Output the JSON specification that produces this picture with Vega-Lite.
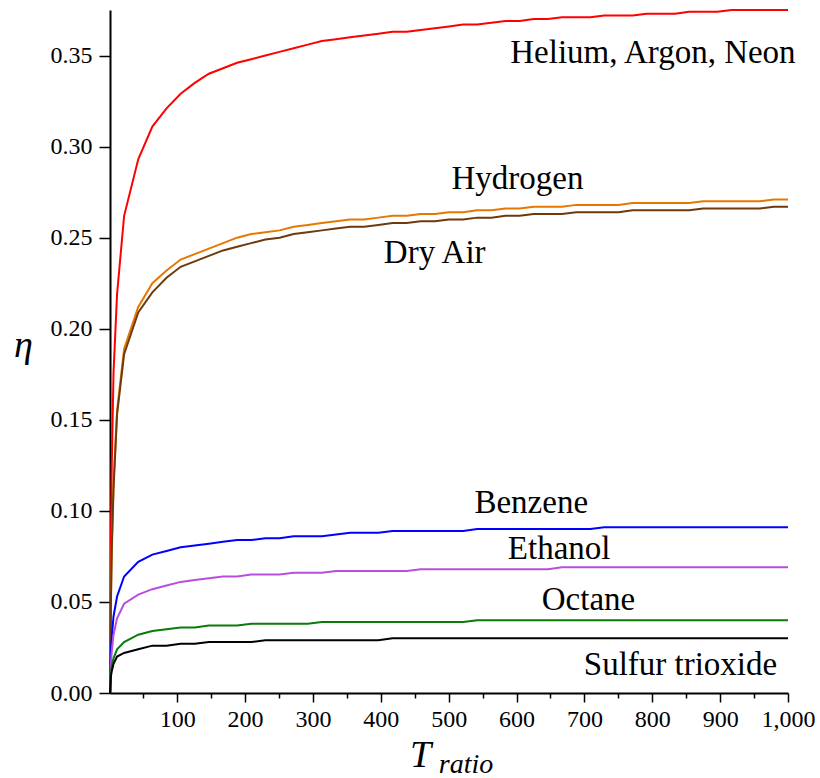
{
"$schema":"https://vega.github.io/schema/vega-lite/v6.json",
"width":678,"height":683,
"autosize":{"type":"none"},
"padding":{"left":110,"top":10,"right":32,"bottom":85},
"background":"white",
"config":{"view":{"stroke":null},"font":"Liberation Serif"},
"resolve":{"axis":{"x":"independent"}},
"datasets":{
"curves":[
{"g":"He","x":1,"y":0},{"g":"He","x":2.3,"y":0.08},{"g":"He","x":3.6,"y":0.125},{"g":"He","x":6.2,"y":0.176},{"g":"He","x":11.4,"y":0.219},{"g":"He","x":21.8,"y":0.262},{"g":"He","x":42.6,"y":0.293},{"g":"He","x":63.4,"y":0.311},{"g":"He","x":84.3,"y":0.321},{"g":"He","x":105.1,"y":0.329},{"g":"He","x":125.9,"y":0.335},{"g":"He","x":146.7,"y":0.34},{"g":"He","x":167.5,"y":0.343},{"g":"He","x":188.3,"y":0.346},{"g":"He","x":209.1,"y":0.348},{"g":"He","x":229.9,"y":0.35},{"g":"He","x":250.8,"y":0.352},{"g":"He","x":271.6,"y":0.354},{"g":"He","x":292.4,"y":0.356},{"g":"He","x":313.2,"y":0.358},{"g":"He","x":334,"y":0.359},{"g":"He","x":354.8,"y":0.36},{"g":"He","x":375.6,"y":0.361},{"g":"He","x":396.4,"y":0.362},{"g":"He","x":417.3,"y":0.363},{"g":"He","x":438.1,"y":0.363},{"g":"He","x":458.9,"y":0.364},{"g":"He","x":479.7,"y":0.365},{"g":"He","x":500.5,"y":0.366},{"g":"He","x":521.3,"y":0.367},{"g":"He","x":542.1,"y":0.367},{"g":"He","x":562.9,"y":0.368},{"g":"He","x":583.8,"y":0.369},{"g":"He","x":604.6,"y":0.369},{"g":"He","x":625.4,"y":0.37},{"g":"He","x":646.2,"y":0.37},{"g":"He","x":667,"y":0.371},{"g":"He","x":687.8,"y":0.371},{"g":"He","x":708.6,"y":0.371},{"g":"He","x":729.4,"y":0.372},{"g":"He","x":750.3,"y":0.372},{"g":"He","x":771.1,"y":0.372},{"g":"He","x":791.9,"y":0.373},{"g":"He","x":812.7,"y":0.373},{"g":"He","x":833.5,"y":0.373},{"g":"He","x":854.3,"y":0.374},{"g":"He","x":875.1,"y":0.374},{"g":"He","x":895.9,"y":0.374},{"g":"He","x":916.8,"y":0.375},{"g":"He","x":937.6,"y":0.375},{"g":"He","x":958.4,"y":0.375},{"g":"He","x":979.2,"y":0.375},{"g":"He","x":1000,"y":0.375},
{"g":"H2","x":1,"y":0},{"g":"H2","x":2.3,"y":0.05},{"g":"H2","x":3.6,"y":0.08},{"g":"H2","x":6.2,"y":0.115},{"g":"H2","x":11.4,"y":0.155},{"g":"H2","x":21.8,"y":0.189},{"g":"H2","x":42.6,"y":0.212},{"g":"H2","x":63.4,"y":0.225},{"g":"H2","x":84.3,"y":0.232},{"g":"H2","x":105.1,"y":0.238},{"g":"H2","x":125.9,"y":0.241},{"g":"H2","x":146.7,"y":0.244},{"g":"H2","x":167.5,"y":0.247},{"g":"H2","x":188.3,"y":0.25},{"g":"H2","x":209.1,"y":0.252},{"g":"H2","x":229.9,"y":0.253},{"g":"H2","x":250.8,"y":0.254},{"g":"H2","x":271.6,"y":0.256},{"g":"H2","x":292.4,"y":0.257},{"g":"H2","x":313.2,"y":0.258},{"g":"H2","x":334,"y":0.259},{"g":"H2","x":354.8,"y":0.26},{"g":"H2","x":375.6,"y":0.26},{"g":"H2","x":396.4,"y":0.261},{"g":"H2","x":417.3,"y":0.262},{"g":"H2","x":438.1,"y":0.262},{"g":"H2","x":458.9,"y":0.263},{"g":"H2","x":479.7,"y":0.263},{"g":"H2","x":500.5,"y":0.264},{"g":"H2","x":521.3,"y":0.264},{"g":"H2","x":542.1,"y":0.265},{"g":"H2","x":562.9,"y":0.265},{"g":"H2","x":583.8,"y":0.266},{"g":"H2","x":604.6,"y":0.266},{"g":"H2","x":625.4,"y":0.267},{"g":"H2","x":646.2,"y":0.267},{"g":"H2","x":667,"y":0.267},{"g":"H2","x":687.8,"y":0.268},{"g":"H2","x":708.6,"y":0.268},{"g":"H2","x":729.4,"y":0.268},{"g":"H2","x":750.3,"y":0.268},{"g":"H2","x":771.1,"y":0.269},{"g":"H2","x":791.9,"y":0.269},{"g":"H2","x":812.7,"y":0.269},{"g":"H2","x":833.5,"y":0.269},{"g":"H2","x":854.3,"y":0.269},{"g":"H2","x":875.1,"y":0.27},{"g":"H2","x":895.9,"y":0.27},{"g":"H2","x":916.8,"y":0.27},{"g":"H2","x":937.6,"y":0.27},{"g":"H2","x":958.4,"y":0.27},{"g":"H2","x":979.2,"y":0.271},{"g":"H2","x":1000,"y":0.271},
{"g":"Air","x":1,"y":0},{"g":"Air","x":2.3,"y":0.048},{"g":"Air","x":3.6,"y":0.078},{"g":"Air","x":6.2,"y":0.112},{"g":"Air","x":11.4,"y":0.153},{"g":"Air","x":21.8,"y":0.186},{"g":"Air","x":42.6,"y":0.209},{"g":"Air","x":63.4,"y":0.22},{"g":"Air","x":84.3,"y":0.228},{"g":"Air","x":105.1,"y":0.234},{"g":"Air","x":125.9,"y":0.237},{"g":"Air","x":146.7,"y":0.24},{"g":"Air","x":167.5,"y":0.243},{"g":"Air","x":188.3,"y":0.245},{"g":"Air","x":209.1,"y":0.247},{"g":"Air","x":229.9,"y":0.249},{"g":"Air","x":250.8,"y":0.25},{"g":"Air","x":271.6,"y":0.252},{"g":"Air","x":292.4,"y":0.253},{"g":"Air","x":313.2,"y":0.254},{"g":"Air","x":334,"y":0.255},{"g":"Air","x":354.8,"y":0.256},{"g":"Air","x":375.6,"y":0.256},{"g":"Air","x":396.4,"y":0.257},{"g":"Air","x":417.3,"y":0.258},{"g":"Air","x":438.1,"y":0.258},{"g":"Air","x":458.9,"y":0.259},{"g":"Air","x":479.7,"y":0.259},{"g":"Air","x":500.5,"y":0.26},{"g":"Air","x":521.3,"y":0.26},{"g":"Air","x":542.1,"y":0.261},{"g":"Air","x":562.9,"y":0.261},{"g":"Air","x":583.8,"y":0.262},{"g":"Air","x":604.6,"y":0.262},{"g":"Air","x":625.4,"y":0.263},{"g":"Air","x":646.2,"y":0.263},{"g":"Air","x":667,"y":0.263},{"g":"Air","x":687.8,"y":0.264},{"g":"Air","x":708.6,"y":0.264},{"g":"Air","x":729.4,"y":0.264},{"g":"Air","x":750.3,"y":0.264},{"g":"Air","x":771.1,"y":0.265},{"g":"Air","x":791.9,"y":0.265},{"g":"Air","x":812.7,"y":0.265},{"g":"Air","x":833.5,"y":0.265},{"g":"Air","x":854.3,"y":0.265},{"g":"Air","x":875.1,"y":0.266},{"g":"Air","x":895.9,"y":0.266},{"g":"Air","x":916.8,"y":0.266},{"g":"Air","x":937.6,"y":0.266},{"g":"Air","x":958.4,"y":0.266},{"g":"Air","x":979.2,"y":0.267},{"g":"Air","x":1000,"y":0.267},
{"g":"Bz","x":1,"y":0},{"g":"Bz","x":2.3,"y":0.022},{"g":"Bz","x":3.6,"y":0.031},{"g":"Bz","x":6.2,"y":0.042},{"g":"Bz","x":11.4,"y":0.053},{"g":"Bz","x":21.8,"y":0.064},{"g":"Bz","x":42.6,"y":0.072},{"g":"Bz","x":63.4,"y":0.076},{"g":"Bz","x":84.3,"y":0.078},{"g":"Bz","x":105.1,"y":0.08},{"g":"Bz","x":125.9,"y":0.081},{"g":"Bz","x":146.7,"y":0.082},{"g":"Bz","x":167.5,"y":0.083},{"g":"Bz","x":188.3,"y":0.084},{"g":"Bz","x":209.1,"y":0.084},{"g":"Bz","x":229.9,"y":0.085},{"g":"Bz","x":250.8,"y":0.085},{"g":"Bz","x":271.6,"y":0.086},{"g":"Bz","x":292.4,"y":0.086},{"g":"Bz","x":313.2,"y":0.086},{"g":"Bz","x":334,"y":0.087},{"g":"Bz","x":354.8,"y":0.088},{"g":"Bz","x":375.6,"y":0.088},{"g":"Bz","x":396.4,"y":0.088},{"g":"Bz","x":417.3,"y":0.089},{"g":"Bz","x":438.1,"y":0.089},{"g":"Bz","x":458.9,"y":0.089},{"g":"Bz","x":479.7,"y":0.089},{"g":"Bz","x":500.5,"y":0.089},{"g":"Bz","x":521.3,"y":0.089},{"g":"Bz","x":542.1,"y":0.09},{"g":"Bz","x":562.9,"y":0.09},{"g":"Bz","x":583.8,"y":0.09},{"g":"Bz","x":604.6,"y":0.09},{"g":"Bz","x":625.4,"y":0.09},{"g":"Bz","x":646.2,"y":0.09},{"g":"Bz","x":667,"y":0.09},{"g":"Bz","x":687.8,"y":0.09},{"g":"Bz","x":708.6,"y":0.09},{"g":"Bz","x":729.4,"y":0.091},{"g":"Bz","x":750.3,"y":0.091},{"g":"Bz","x":771.1,"y":0.091},{"g":"Bz","x":791.9,"y":0.091},{"g":"Bz","x":812.7,"y":0.091},{"g":"Bz","x":833.5,"y":0.091},{"g":"Bz","x":854.3,"y":0.091},{"g":"Bz","x":875.1,"y":0.091},{"g":"Bz","x":895.9,"y":0.091},{"g":"Bz","x":916.8,"y":0.091},{"g":"Bz","x":937.6,"y":0.091},{"g":"Bz","x":958.4,"y":0.091},{"g":"Bz","x":979.2,"y":0.091},{"g":"Bz","x":1000,"y":0.091},
{"g":"Et","x":1,"y":0},{"g":"Et","x":2.3,"y":0.016},{"g":"Et","x":3.6,"y":0.023},{"g":"Et","x":6.2,"y":0.032},{"g":"Et","x":11.4,"y":0.041},{"g":"Et","x":21.8,"y":0.049},{"g":"Et","x":42.6,"y":0.054},{"g":"Et","x":63.4,"y":0.057},{"g":"Et","x":84.3,"y":0.059},{"g":"Et","x":105.1,"y":0.061},{"g":"Et","x":125.9,"y":0.062},{"g":"Et","x":146.7,"y":0.063},{"g":"Et","x":167.5,"y":0.064},{"g":"Et","x":188.3,"y":0.064},{"g":"Et","x":209.1,"y":0.065},{"g":"Et","x":229.9,"y":0.065},{"g":"Et","x":250.8,"y":0.065},{"g":"Et","x":271.6,"y":0.066},{"g":"Et","x":292.4,"y":0.066},{"g":"Et","x":313.2,"y":0.066},{"g":"Et","x":334,"y":0.067},{"g":"Et","x":354.8,"y":0.067},{"g":"Et","x":375.6,"y":0.067},{"g":"Et","x":396.4,"y":0.067},{"g":"Et","x":417.3,"y":0.067},{"g":"Et","x":438.1,"y":0.067},{"g":"Et","x":458.9,"y":0.068},{"g":"Et","x":479.7,"y":0.068},{"g":"Et","x":500.5,"y":0.068},{"g":"Et","x":521.3,"y":0.068},{"g":"Et","x":542.1,"y":0.068},{"g":"Et","x":562.9,"y":0.068},{"g":"Et","x":583.8,"y":0.068},{"g":"Et","x":604.6,"y":0.068},{"g":"Et","x":625.4,"y":0.068},{"g":"Et","x":646.2,"y":0.068},{"g":"Et","x":667,"y":0.069},{"g":"Et","x":687.8,"y":0.069},{"g":"Et","x":708.6,"y":0.069},{"g":"Et","x":729.4,"y":0.069},{"g":"Et","x":750.3,"y":0.069},{"g":"Et","x":771.1,"y":0.069},{"g":"Et","x":791.9,"y":0.069},{"g":"Et","x":812.7,"y":0.069},{"g":"Et","x":833.5,"y":0.069},{"g":"Et","x":854.3,"y":0.069},{"g":"Et","x":875.1,"y":0.069},{"g":"Et","x":895.9,"y":0.069},{"g":"Et","x":916.8,"y":0.069},{"g":"Et","x":937.6,"y":0.069},{"g":"Et","x":958.4,"y":0.069},{"g":"Et","x":979.2,"y":0.069},{"g":"Et","x":1000,"y":0.069},
{"g":"Oc","x":1,"y":0},{"g":"Oc","x":2.3,"y":0.011},{"g":"Oc","x":3.6,"y":0.015},{"g":"Oc","x":6.2,"y":0.019},{"g":"Oc","x":11.4,"y":0.024},{"g":"Oc","x":21.8,"y":0.028},{"g":"Oc","x":42.6,"y":0.032},{"g":"Oc","x":63.4,"y":0.034},{"g":"Oc","x":84.3,"y":0.035},{"g":"Oc","x":105.1,"y":0.036},{"g":"Oc","x":125.9,"y":0.036},{"g":"Oc","x":146.7,"y":0.037},{"g":"Oc","x":167.5,"y":0.037},{"g":"Oc","x":188.3,"y":0.037},{"g":"Oc","x":209.1,"y":0.038},{"g":"Oc","x":229.9,"y":0.038},{"g":"Oc","x":250.8,"y":0.038},{"g":"Oc","x":271.6,"y":0.038},{"g":"Oc","x":292.4,"y":0.038},{"g":"Oc","x":313.2,"y":0.039},{"g":"Oc","x":334,"y":0.039},{"g":"Oc","x":354.8,"y":0.039},{"g":"Oc","x":375.6,"y":0.039},{"g":"Oc","x":396.4,"y":0.039},{"g":"Oc","x":417.3,"y":0.039},{"g":"Oc","x":438.1,"y":0.039},{"g":"Oc","x":458.9,"y":0.039},{"g":"Oc","x":479.7,"y":0.039},{"g":"Oc","x":500.5,"y":0.039},{"g":"Oc","x":521.3,"y":0.039},{"g":"Oc","x":542.1,"y":0.04},{"g":"Oc","x":562.9,"y":0.04},{"g":"Oc","x":583.8,"y":0.04},{"g":"Oc","x":604.6,"y":0.04},{"g":"Oc","x":625.4,"y":0.04},{"g":"Oc","x":646.2,"y":0.04},{"g":"Oc","x":667,"y":0.04},{"g":"Oc","x":687.8,"y":0.04},{"g":"Oc","x":708.6,"y":0.04},{"g":"Oc","x":729.4,"y":0.04},{"g":"Oc","x":750.3,"y":0.04},{"g":"Oc","x":771.1,"y":0.04},{"g":"Oc","x":791.9,"y":0.04},{"g":"Oc","x":812.7,"y":0.04},{"g":"Oc","x":833.5,"y":0.04},{"g":"Oc","x":854.3,"y":0.04},{"g":"Oc","x":875.1,"y":0.04},{"g":"Oc","x":895.9,"y":0.04},{"g":"Oc","x":916.8,"y":0.04},{"g":"Oc","x":937.6,"y":0.04},{"g":"Oc","x":958.4,"y":0.04},{"g":"Oc","x":979.2,"y":0.04},{"g":"Oc","x":1000,"y":0.04},
{"g":"SO","x":1,"y":0},{"g":"SO","x":2.3,"y":0.009},{"g":"SO","x":3.6,"y":0.012},{"g":"SO","x":6.2,"y":0.016},{"g":"SO","x":11.4,"y":0.02},{"g":"SO","x":21.8,"y":0.022},{"g":"SO","x":42.6,"y":0.024},{"g":"SO","x":63.4,"y":0.026},{"g":"SO","x":84.3,"y":0.026},{"g":"SO","x":105.1,"y":0.027},{"g":"SO","x":125.9,"y":0.027},{"g":"SO","x":146.7,"y":0.028},{"g":"SO","x":167.5,"y":0.028},{"g":"SO","x":188.3,"y":0.028},{"g":"SO","x":209.1,"y":0.028},{"g":"SO","x":229.9,"y":0.029},{"g":"SO","x":250.8,"y":0.029},{"g":"SO","x":271.6,"y":0.029},{"g":"SO","x":292.4,"y":0.029},{"g":"SO","x":313.2,"y":0.029},{"g":"SO","x":334,"y":0.029},{"g":"SO","x":354.8,"y":0.029},{"g":"SO","x":375.6,"y":0.029},{"g":"SO","x":396.4,"y":0.029},{"g":"SO","x":417.3,"y":0.03},{"g":"SO","x":438.1,"y":0.03},{"g":"SO","x":458.9,"y":0.03},{"g":"SO","x":479.7,"y":0.03},{"g":"SO","x":500.5,"y":0.03},{"g":"SO","x":521.3,"y":0.03},{"g":"SO","x":542.1,"y":0.03},{"g":"SO","x":562.9,"y":0.03},{"g":"SO","x":583.8,"y":0.03},{"g":"SO","x":604.6,"y":0.03},{"g":"SO","x":625.4,"y":0.03},{"g":"SO","x":646.2,"y":0.03},{"g":"SO","x":667,"y":0.03},{"g":"SO","x":687.8,"y":0.03},{"g":"SO","x":708.6,"y":0.03},{"g":"SO","x":729.4,"y":0.03},{"g":"SO","x":750.3,"y":0.03},{"g":"SO","x":771.1,"y":0.03},{"g":"SO","x":791.9,"y":0.03},{"g":"SO","x":812.7,"y":0.03},{"g":"SO","x":833.5,"y":0.03},{"g":"SO","x":854.3,"y":0.03},{"g":"SO","x":875.1,"y":0.03},{"g":"SO","x":895.9,"y":0.03},{"g":"SO","x":916.8,"y":0.03},{"g":"SO","x":937.6,"y":0.03},{"g":"SO","x":958.4,"y":0.03},{"g":"SO","x":979.2,"y":0.03},{"g":"SO","x":1000,"y":0.03}
],
"labels":[
{"t":"Helium, Argon, Neon","x":801,"y":0.346},
{"t":"Hydrogen","x":601.4,"y":0.2767},
{"t":"Dry Air","x":479.4,"y":0.2363},
{"t":"Benzene","x":621.7,"y":0.0988},
{"t":"Ethanol","x":662.8,"y":0.0736},
{"t":"Octane","x":706,"y":0.0457},
{"t":"Sulfur trioxide","x":841.6,"y":0.01}
],
"sub":[{"t":"ratio","x":525.5,"y":-0.0438}]
},
"layer":[
{"data":{"name":"curves"},
 "mark":{"type":"line","strokeWidth":2},
 "encoding":{
  "x":{"field":"x","type":"quantitative","scale":{"domain":[1,1000],"nice":false,"zero":false},
   "axis":{"orient":"bottom","values":[100,200,300,400,500,600,700,800,900,1000],
    "format":",d","tickSize":9,
    "labelFontSize":24,"labelFont":"Liberation Serif","labelColor":"black","labelPadding":5,
    "labelOverlap":false,"labelFlush":false,"labelBound":false,
    "tickColor":"black","tickWidth":1.5,"domainColor":"black","domainWidth":2,"grid":false,
    "title":"T","titleFont":"Liberation Serif","titleFontStyle":"italic","titleFontWeight":"normal","titleFontSize":38,"titleColor":"black",
    "titleX":310,"titleY":73,"titleBaseline":"alphabetic","titleAlign":"center"}},
  "y":{"field":"y","type":"quantitative","scale":{"domain":[0,0.375],"nice":false,"zero":false},
   "axis":{"values":[0,0.05,0.1,0.15,0.2,0.25,0.3,0.35],"format":".2f",
    "tickSize":11,"labelFontSize":24,"labelFont":"Liberation Serif","labelColor":"black","labelPadding":7,
    "labelOverlap":false,"labelFlush":false,"labelBound":false,
    "tickColor":"black","tickWidth":1.5,"domainColor":"black","domainWidth":2,"grid":false,
    "title":"η","titleAngle":0,"titleFont":"Liberation Serif","titleFontStyle":"italic","titleFontWeight":"normal","titleFontSize":38,"titleColor":"black",
    "titleX":-87,"titleY":346,"titleBaseline":"alphabetic","titleAlign":"center"}},
  "color":{"field":"g","type":"nominal","legend":null,
   "scale":{"domain":["He","H2","Air","Bz","Et","Oc","SO"],"range":["#ff0000","#e67800","#6e3a0c","#0000ff","#b84fdc","#0a7a0a","#000000"]}}
 }},
{"data":{"name":"labels"},
 "mark":{"type":"text","font":"Liberation Serif","fontSize":33,"align":"center","baseline":"alphabetic","color":"black"},
 "encoding":{
  "x":{"field":"x","type":"quantitative","scale":{"domain":[1,1000],"nice":false,"zero":false},
   "axis":{"orient":"bottom","values":[50,150,250,350,450,550,650,750,850,950],"tickSize":5,"labels":false,"domain":false,"grid":false,
    "tickColor":"black","tickWidth":1.5,"title":null}},
  "y":{"field":"y","type":"quantitative","scale":{"domain":[0,0.375],"nice":false,"zero":false}},
  "text":{"field":"t","type":"nominal"}}},
{"data":{"name":"sub"},
 "mark":{"type":"text","font":"Liberation Serif","fontSize":28,"fontStyle":"italic","align":"center","baseline":"alphabetic","color":"black"},
 "encoding":{
  "x":{"field":"x","type":"quantitative","scale":{"domain":[1,1000],"nice":false,"zero":false},"axis":null},
  "y":{"field":"y","type":"quantitative","scale":{"domain":[0,0.375],"nice":false,"zero":false}},
  "text":{"field":"t","type":"nominal"}}}
]
}
